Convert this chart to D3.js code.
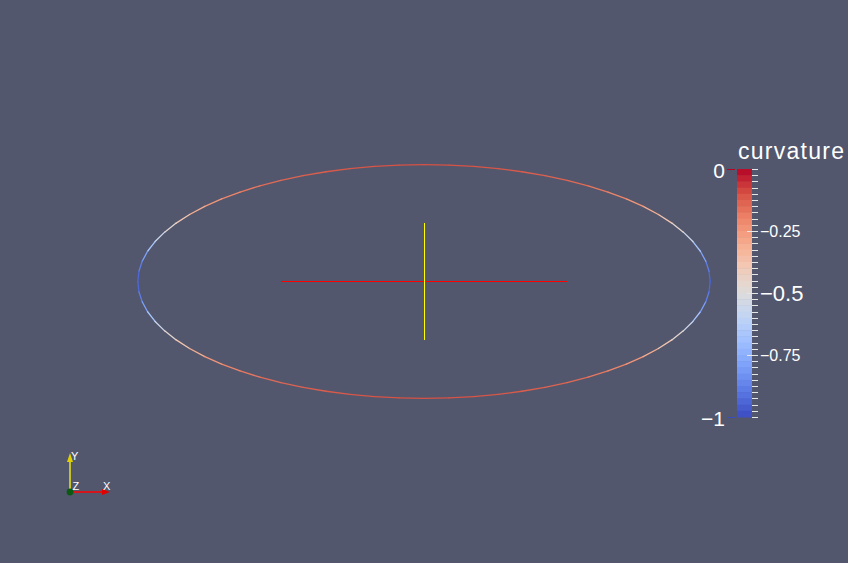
<!DOCTYPE html>
<html>
<head>
<meta charset="utf-8">
<script src="https://cdn.jsdelivr.net/npm/d3@7"></script>
<style>
  html, body { margin: 0; padding: 0; background: #52576e; }
  svg { display: block; }
  text { font-family: "Liberation Sans", Arial, sans-serif; fill: #ffffff; }
</style>
</head>
<body>
<svg id="view" width="848" height="563"></svg>
<script>
// --- Data: ellipse (world units) and curvature, per quarter
const ellipseA = 2.45;
const ellipseB = 1.0;
const angleDeg = [0, 5, 10, 15, 20, 25, 30, 35, 40, 45, 50, 55, 60, 65, 70, 75, 80, 85, 90];
const curvature = [-0.95, -0.92, -0.85, -0.73, -0.61, -0.51, -0.42, -0.34, -0.27, -0.22,
                   -0.19, -0.16, -0.14, -0.13, -0.12, -0.11, -0.105, -0.1, -0.1];
// centre cross lines (world units)
const xLine = [-1.225, 1.225];
const yLine = [-0.5, 0.5];

// colour bar
const barDomain = [0, -1];
const barMajor = [-0.25, -0.5, -0.75];
const barStep = 0.025;
const coolWarm = ["#3b4cc0", "#5977e3", "#7b9ff9", "#9ebeff", "#c0d4f5", "#dddcdc",
                  "#f2cbb7", "#f7ac8e", "#ee8468", "#d65244", "#b40426"];

const svg = d3.select("#view");

// --- Scales
const k = 116.8;
const x = d3.scaleLinear().domain([-1, 1]).range([424 - k, 424 + k]);
const y = d3.scaleLinear().domain([-1, 1]).range([281.5 + k, 281.5 - k]);
const color = d3.scaleLinear()
  .domain(d3.range(coolWarm.length).map(i => -1 + i / (coolWarm.length - 1)))
  .range(coolWarm)
  .clamp(true);

// --- Ellipse points, quarter data mirrored into the four quadrants
const pts = [];
[[1, 1], [-1, 1], [-1, -1], [1, -1]].forEach(([sx, sy], q) => {
  const order = (q % 2 === 0) ? d3.range(angleDeg.length) : d3.range(angleDeg.length).reverse();
  order.forEach(i => {
    const t = angleDeg[i] * Math.PI / 180;
    pts.push({ x: sx * ellipseA * Math.cos(t), y: sy * ellipseB * Math.sin(t), c: curvature[i] });
  });
});

const segs = d3.pairs(pts).concat([[pts[pts.length - 1], pts[0]]]);
svg.append("g").selectAll("line")
  .data(segs)
  .enter()
  .append("line")
  .attr("x1", d => x(d[0].x)).attr("y1", d => y(d[0].y))
  .attr("x2", d => x(d[1].x)).attr("y2", d => y(d[1].y))
  .attr("stroke", d => color((d[0].c + d[1].c) / 2))
  .attr("stroke-width", 1.3)
  .attr("stroke-linecap", "round");

// --- Centre cross
svg.append("line")
  .attr("x1", x(xLine[0])).attr("x2", x(xLine[1]))
  .attr("y1", y(0)).attr("y2", y(0))
  .attr("stroke", "#ff0000").attr("stroke-width", 1)
  .attr("shape-rendering", "crispEdges");
svg.append("line")
  .attr("x1", x(0) + 0.5).attr("x2", x(0) + 0.5)
  .attr("y1", y(yLine[0])).attr("y2", y(yLine[1]))
  .attr("stroke", "#ffff00").attr("stroke-width", 1)
  .attr("shape-rendering", "crispEdges");

// --- Colour bar
const barX = 737, barW = 15;
const by = d3.scaleLinear().domain(barDomain).range([169, 417]);
const bands = d3.range(0, 40).map(i => -i * barStep);
const bar = svg.append("g");
bar.selectAll("rect")
  .data(bands)
  .enter()
  .append("rect")
  .attr("x", barX)
  .attr("y", d => by(d))
  .attr("width", barW)
  .attr("height", by(-barStep) - by(0) + 0.5)
  .attr("fill", d => color(d - barStep / 2));

const ticks = d3.range(0, 41).map(i => -i * barStep);
bar.selectAll(".tick")
  .data(ticks)
  .enter()
  .append("line")
  .attr("class", "tick")
  .attr("x1", d => barMajor.some(m => Math.abs(m - d) < 1e-6) ? barX + 10 : barX + barW)
  .attr("x2", barX + barW + 6)
  .attr("y1", d => Math.round(by(d)) + 0.5)
  .attr("y2", d => Math.round(by(d)) + 0.5)
  .attr("stroke", "#e6e6e6")
  .attr("stroke-width", 1);

bar.selectAll(".major")
  .data(barMajor)
  .enter()
  .append("text")
  .attr("x", barX + barW + 8)
  .attr("y", d => by(d))
  .attr("dy", "0.36em")
  .style("font-size", d => d === -0.5 ? "22px" : "16px")
  .text(d => d3.format("")(d));

// end labels with their coloured markers
bar.selectAll(".end")
  .data(barDomain)
  .enter()
  .append("line")
  .attr("x1", 727).attr("x2", 735)
  .attr("y1", d => Math.round(by(d)) + 0.5)
  .attr("y2", d => Math.round(by(d)) + 0.5)
  .attr("stroke", d => color(d))
  .attr("stroke-width", 1);
bar.selectAll(".endLabel")
  .data(barDomain)
  .enter()
  .append("text")
  .attr("x", 725)
  .attr("y", d => by(d) + 1)
  .attr("dy", "0.36em")
  .attr("text-anchor", "end")
  .style("font-size", "21px")
  .text(d => d3.format("")(d));

svg.append("text")
  .attr("x", 738)
  .attr("y", 159)
  .attr("textLength", 106)
  .attr("lengthAdjust", "spacing")
  .style("font-size", "23px")
  .text("curvature");

// --- Orientation triad
const tri = svg.append("g");
const ox = 70, oy = 492;
tri.append("line").attr("x1", ox).attr("y1", oy).attr("x2", 103).attr("y2", oy)
  .attr("stroke", "#ff0000").attr("stroke-width", 1.3);
tri.append("path").attr("d", `M${110},${oy} L${102},${oy - 3} L${102},${oy + 3} Z`)
  .attr("fill", "#e00000");
tri.append("line").attr("x1", ox).attr("y1", oy).attr("x2", ox).attr("y2", 461)
  .attr("stroke", "#ffff00").attr("stroke-width", 1.3);
tri.append("path").attr("d", `M${ox},${453} L${ox - 3},${462} L${ox + 3},${462} Z`)
  .attr("fill", "#e0d000");
tri.append("circle").attr("cx", ox).attr("cy", oy).attr("r", 3.4).attr("fill", "#0a5a12");
tri.append("text").attr("x", 71).attr("y", 460).style("font-size", "11px").text("Y");
tri.append("text").attr("x", 72.5).attr("y", 490).style("font-size", "11px").text("Z");
tri.append("text").attr("x", 103).attr("y", 490).style("font-size", "11px").text("X");
</script>
</body>
</html>
